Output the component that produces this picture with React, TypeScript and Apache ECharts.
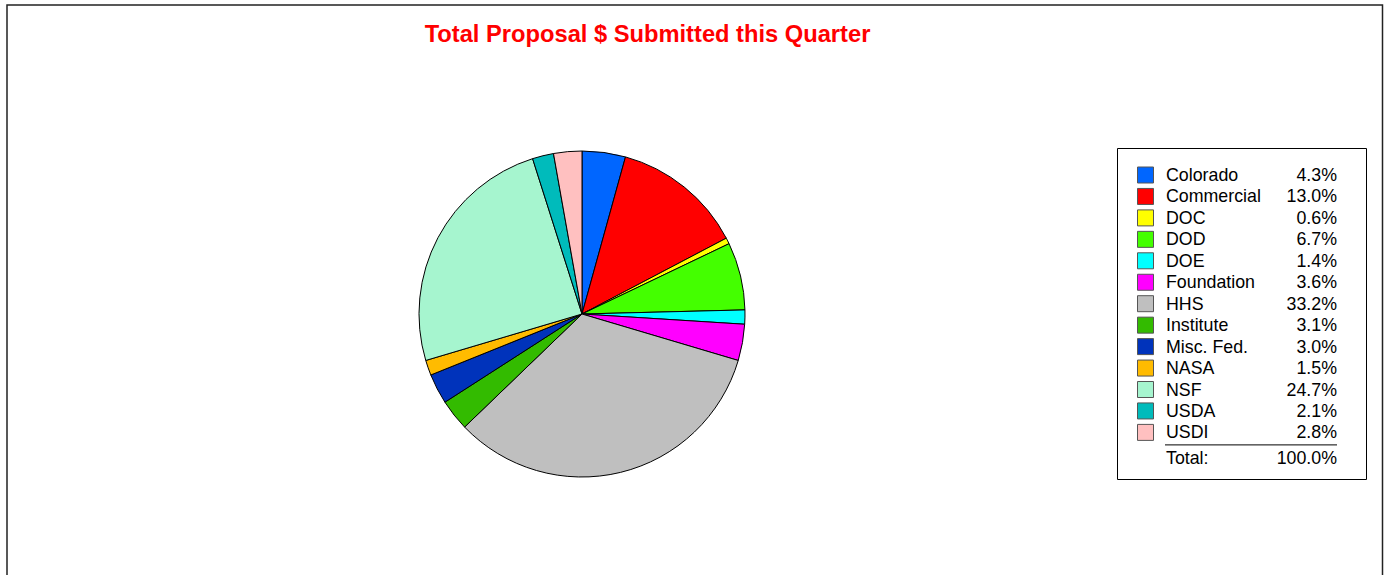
import React, { useEffect, useRef } from "react";
import * as echarts from "echarts";

const categories = ["Colorado", "Commercial", "DOC", "DOD", "DOE", "Foundation", "HHS", "Institute", "Misc. Fed.", "NASA", "NSF", "USDA", "USDI"];
const values = [4.3, 13.0, 0.6, 6.7, 1.4, 3.6, 33.2, 3.1, 3.0, 1.5, 24.7, 2.1, 2.8];
const colors = ["#0066ff", "#ff0000", "#ffff00", "#44ff00", "#00ffff", "#ff00ff", "#bfbfbf", "#33bb00", "#0033bb", "#ffbb00", "#a6f5cf", "#00bbbb", "#ffc0c0"];
const totalLabel = "Total:";
const totalValue = "100.0%";
const title = "Total Proposal $ Submitted this Quarter";

const FONT = "Arial, 'Liberation Sans', Helvetica, sans-serif";

export default function App() {
  const ref = useRef<HTMLDivElement>(null);
  useEffect(() => {
    if (!ref.current) return;
    const chart = echarts.init(ref.current, null, { renderer: "svg" });
    const legendX = 1117, legendY = 148, legendW = 249, legendH = 331;
    const rowH = 21.45;
    const firstRowY = 175;
    const fs = "17.8px";
    const graphics: any[] = [
      { type: "rect", shape: { x: 7, y: 5, width: 1375.5, height: 620 }, style: { fill: "none", stroke: "#222", lineWidth: 1.5 }, silent: true },
      { type: "rect", shape: { x: legendX + 0.5, y: legendY + 0.5, width: legendW, height: legendH }, style: { fill: "#fff", stroke: "#000", lineWidth: 1 } },
    ];
    categories.forEach((c, i) => {
      const cy = firstRowY + i * rowH;
      graphics.push({ type: "rect", shape: { x: 1137.5, y: cy - 8, width: 16, height: 16 }, style: { fill: colors[i], stroke: "#555", lineWidth: 1 } });
      graphics.push({ type: "text", x: 1166, y: cy, style: { text: c, font: `${fs} ${FONT}`, fill: "#000", textVerticalAlign: "middle", textAlign: "left" } });
      graphics.push({ type: "text", x: 1337, y: cy, style: { text: values[i].toFixed(1) + "%", font: `${fs} ${FONT}`, fill: "#000", textVerticalAlign: "middle", textAlign: "right" } });
    });
    const lineY = firstRowY + (categories.length - 1) * rowH + 12.5;
    graphics.push({ type: "line", shape: { x1: 1165, y1: lineY, x2: 1337, y2: lineY }, style: { stroke: "#000", lineWidth: 1 } });
    graphics.push({ type: "text", x: 1166, y: 458, style: { text: totalLabel, font: `${fs} ${FONT}`, fill: "#000", textVerticalAlign: "middle", textAlign: "left" } });
    graphics.push({ type: "text", x: 1337, y: 458, style: { text: totalValue, font: `${fs} ${FONT}`, fill: "#000", textVerticalAlign: "middle", textAlign: "right" } });

    chart.setOption({
      animation: false,
      title: {
        text: title,
        left: 642.5,
        top: 17,
        textAlign: "center",
        textStyle: { color: "#ff0000", fontSize: 23.7, fontWeight: "bold", fontFamily: FONT },
      },
      series: [
        {
          type: "pie",
          center: [582, 314],
          radius: 163,
          startAngle: 90,
          clockwise: true,
          label: { show: false },
          labelLine: { show: false },
          emphasis: { disabled: true },
          itemStyle: { borderColor: "#000", borderWidth: 1 },
          data: categories.map((c, i) => ({ name: c, value: values[i], itemStyle: { color: colors[i] } })),
        },
      ],
      graphic: graphics,
    });
    return () => chart.dispose();
  }, []);
  return <div ref={ref} style={{ position: "fixed", left: 0, top: 0, width: 1384, height: 575, background: "#fff" }} />;
}
